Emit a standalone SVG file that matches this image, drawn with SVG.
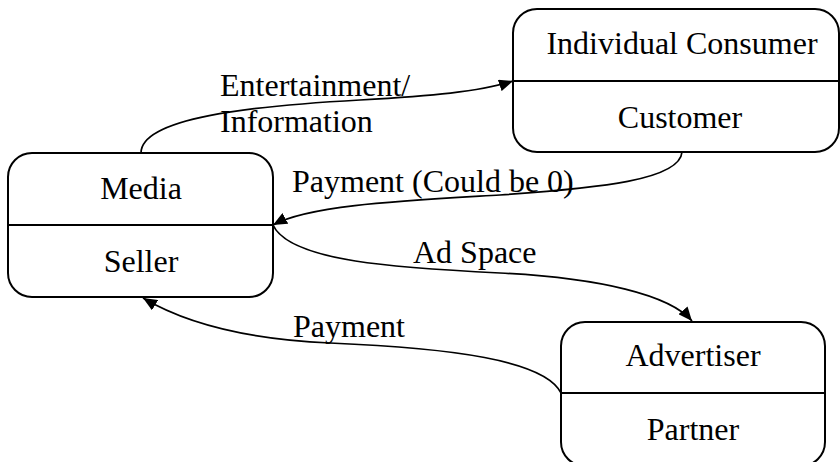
<svg xmlns="http://www.w3.org/2000/svg" width="840" height="462" viewBox="0 0 840 462">
  <defs>
    <marker id="arrow" viewBox="0 0 14 12" refX="14" refY="6" markerWidth="14" markerHeight="12" markerUnits="userSpaceOnUse" orient="auto">
      <path d="M0,0 L14,6 L0,12 z" fill="#000"/>
    </marker>
    <style>
      .box { fill: #fff; stroke: #000; stroke-width: 2; }
      .div { stroke: #000; stroke-width: 2; }
      .lbl { font-family: "Liberation Serif", "Times New Roman", serif; font-size: 32px; fill: #000; }
      .mid { text-anchor: middle; }
      .edge { fill: none; stroke: #000; stroke-width: 1.7; marker-end: url(#arrow); }
    </style>
  </defs>
  <rect width="840" height="462" fill="#fff"/>

  <!-- connectors -->
  <g id="connectors">
    <path class="edge" d="M141,153 C141,118 250,106 360,100 C430,96 480,92 513,81"/>
    <path class="edge" d="M682,152 C680,180 600,188 500,195 C400,201 310,205 273,225"/>
    <path class="edge" d="M273,225 C290,262 400,268 500,273 C600,278 670,295 692,321"/>
    <path class="edge" d="M561,393 C545,360 450,348 330,343 C240,339 180,320 143,298"/>
  </g>

  <!-- edge labels -->
  <g id="edge-labels">
    <text class="lbl" x="220" y="96">Entertainment/</text>
    <text class="lbl" x="220" y="132">Information</text>
    <text class="lbl" x="292" y="192">Payment (Could be 0)</text>
    <text class="lbl" x="413" y="263">Ad Space</text>
    <text class="lbl" x="293" y="337">Payment</text>
  </g>

  <!-- nodes -->
  <g id="consumer">
    <rect class="box" x="513" y="9" width="326" height="143" rx="24" ry="24"/>
    <line class="div" x1="513" y1="81" x2="839" y2="81"/>
    <text class="lbl mid" x="682" y="54">Individual Consumer</text>
    <text class="lbl mid" x="680" y="128">Customer</text>
  </g>

  <g id="media">
    <rect class="box" x="8" y="153" width="265" height="144" rx="24" ry="24"/>
    <line class="div" x1="8" y1="225" x2="273" y2="225"/>
    <text class="lbl mid" x="141" y="199">Media</text>
    <text class="lbl mid" x="141" y="272">Seller</text>
  </g>

  <g id="advertiser">
    <rect class="box" x="561" y="322" width="264" height="144" rx="24" ry="24"/>
    <line class="div" x1="561" y1="393" x2="825" y2="393"/>
    <text class="lbl mid" x="693" y="366">Advertiser</text>
    <text class="lbl mid" x="693" y="440">Partner</text>
  </g>
</svg>
